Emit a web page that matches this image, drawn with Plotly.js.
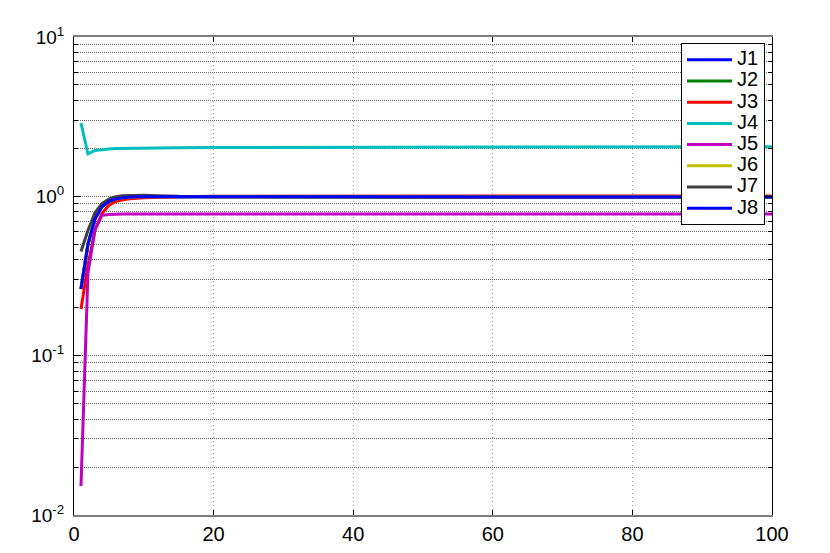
<!DOCTYPE html>
<html>
<head>
<meta charset="utf-8">
<script src="https://cdn.plot.ly/plotly-3.0.1.min.js"></script>
<style>html,body{margin:0;padding:0;background:#fff;}#chart{width:830px;height:553px;}</style>
</head>
<body>
<div id="chart"></div>
<script>
var seriesNames = ["J1","J2","J3","J4","J5","J6","J7","J8"];
var seriesColors = ["#0000ff","#008000","#ff0000","#00bfbf","#bf00bf","#bfbf00","#404040","#0000ff"];
var xValues = [1,2,3,4,5,6,7,8,10,12,15,20,30,40,50,60,70,80,90,100];
var J1 = [0.262,0.50,0.72,0.86,0.93,0.965,0.98,0.99,0.995,0.995,0.99,0.99,0.99,0.99,0.99,0.99,0.99,0.99,0.99,0.99];
var J2 = [0.262,0.50,0.72,0.86,0.93,0.965,0.98,0.99,0.995,0.995,0.99,0.99,0.99,0.99,0.99,0.99,0.99,0.99,0.99,0.99];
var J3 = [0.196,0.37,0.61,0.78,0.88,0.93,0.95,0.965,0.98,0.99,0.995,1.0,1.003,1.005,1.005,1.005,1.005,1.005,1.005,1.005];
var J4 = [2.88,1.85,1.94,1.97,1.985,1.995,2.0,2.005,2.01,2.015,2.02,2.025,2.03,2.035,2.04,2.04,2.045,2.045,2.05,2.05];
var J5 = [0.0152,0.33,0.62,0.76,0.77,0.775,0.775,0.775,0.775,0.775,0.775,0.775,0.775,0.775,0.775,0.775,0.775,0.775,0.775,0.775];
var J6 = [0.262,0.50,0.72,0.86,0.93,0.965,0.98,0.99,0.995,0.995,0.99,0.99,0.99,0.99,0.99,0.99,0.99,0.99,0.99,0.99];
var J7 = [0.45,0.61,0.79,0.90,0.96,0.995,1.01,1.015,1.015,1.01,1.0,0.995,0.99,0.99,0.99,0.99,0.99,0.99,0.99,0.99];
var J8 = [0.262,0.50,0.72,0.86,0.93,0.965,0.98,0.99,0.995,0.995,0.99,0.99,0.99,0.99,0.99,0.99,0.99,0.99,0.99,0.99];
var seriesValues = [J1,J2,J3,J4,J5,J6,J7,J8];

var yMajorVals = [0.01,0.1,1,10];
var yMajorText = ["10<sup>-2</sup>","10<sup>-1</sup>","10<sup>0</sup>","10<sup>1</sup>"];
var yMinorVals = [0.02,0.03,0.04,0.05,0.06,0.07,0.08,0.09,0.2,0.3,0.4,0.5,0.6,0.7,0.8,0.9,2,3,4,5,6,7,8,9];
var xTickVals = [0,20,40,60,80,100];

var traces = seriesNames.map(function(n,i){
  return {x:xValues, y:seriesValues[i], name:'<span style="font-size:20px">' + n + '</span>',
          type:'scatter', mode:'lines', line:{color:seriesColors[i], width:3}};
});

var fontFam = '"Liberation Sans", Arial, Helvetica, sans-serif';
var layout = {
  width:830, height:553,
  margin:{l:74, r:58, t:37, b:38},
  paper_bgcolor:'#fff', plot_bgcolor:'#fff',
  font:{family:fontFam, size:19, color:'#000'},
  showlegend:true,
  legend:{x:0.99, xanchor:'right', y:0.987, yanchor:'top', bgcolor:'#fff',
          bordercolor:'#000', borderwidth:1, font:{family:fontFam, size:14, color:'#000'},
          itemwidth:45, tracegroupgap:0},
  xaxis:{range:[0,100], tickmode:'array', tickvals:xTickVals, ticks:'inside', ticklen:5,
         tickcolor:'#000', showline:true, linecolor:'#7f7f7f', linewidth:2, mirror:'ticks',
         showgrid:true, gridcolor:'#a0a0a0', griddash:'1px,3px', gridwidth:1, zeroline:false,
         tickfont:{family:fontFam, size:20, color:'#000'}},
  yaxis:{type:'log', range:[-2,1], tickmode:'array', tickvals:yMajorVals, ticktext:yMajorText,
         ticks:'inside', ticklen:7, tickcolor:'#000', showline:true, linecolor:'#000', linewidth:1,
         mirror:'ticks', showgrid:true, gridcolor:'#666666', griddash:'1px,1px', gridwidth:1,
         zeroline:false, ticklabelstandoff:5,
         tickfont:{family:fontFam, size:19, color:'#000'},
         minor:{tickmode:'array', tickvals:yMinorVals, ticks:'inside', ticklen:4, tickcolor:'#000',
                showgrid:true, gridcolor:'#666666', griddash:'1px,1px', gridwidth:1}}
};
Plotly.newPlot('chart', traces, layout, {displayModeBar:false, staticPlot:true});
</script>
</body>
</html>
